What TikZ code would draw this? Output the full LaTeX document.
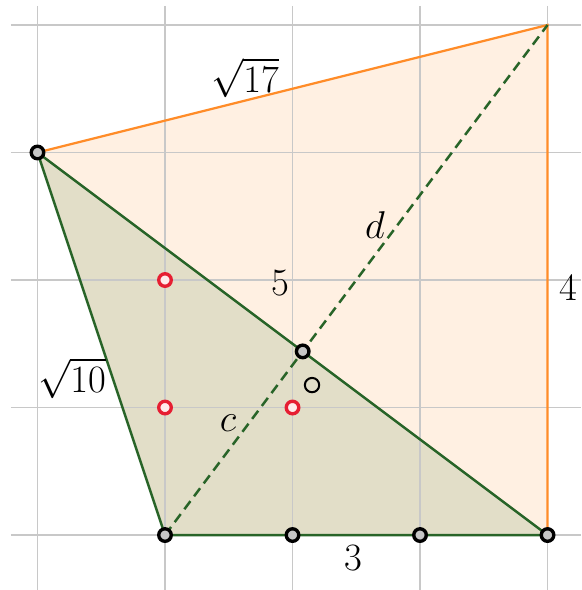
\documentclass[tikz,border=0pt]{standalone}
\usepackage{tikz}
\usetikzlibrary{positioning}
\definecolor{edgegreen}{RGB}{40,100,40}
\definecolor{fillgreen}{RGB}{226,222,200}
\definecolor{edgeorange}{RGB}{255,140,40}
\definecolor{fillorange}{RGB}{255,240,226}
\definecolor{gridgray}{RGB}{200,200,200}
\definecolor{markred}{RGB}{230,30,50}

\begin{document}
\begin{tikzpicture}[x=2cm,y=2cm,
  gridline/.style={gridgray,line width=0.6pt},
  greenedge/.style={edgegreen,line width=1.1pt},
  orangeedge/.style={edgeorange,line width=1pt},
  ptmark/.style={draw=black,line width=1.5pt,fill=gray!45},
  redmark/.style={draw=markred,line width=1.5pt,fill=red!8},
  lbl/.style={font=\fontsize{16.5}{20}\selectfont,inner sep=1pt}]
\useasboundingbox (-1.294,-0.431) rectangle (3.263,4.196);
\coordinate (A) at (-1,3);
\coordinate (B) at (0,0);
\coordinate (C) at (3,0);
\coordinate (D) at (3,4);
\coordinate (S) at (1.08,1.44);

\fill[fillorange] (A) -- (D) -- (C) -- (B) -- cycle;
\fill[fillgreen] (A) -- (B) -- (C) -- cycle;

\draw[gridline] (-1,4.149) -- (-1,-0.431);
\draw[gridline] (0,4.149) -- (0,-0.431);
\draw[gridline] (1,4.149) -- (1,-0.431);
\draw[gridline] (2,4.149) -- (2,-0.431);
\draw[gridline] (3,4.149) -- (3,-0.431);
\draw[gridline] (-1.208,0) -- (3.263,0);
\draw[gridline] (-1.208,1) -- (3.263,1);
\draw[gridline] (-1.208,2) -- (3.263,2);
\draw[gridline] (-1.208,3) -- (3.263,3);
\draw[gridline] (-1.208,4) -- (3.263,4);

\draw[orangeedge] (A) -- (D) -- (C);
\draw[greenedge] (A) -- (B) -- (C) -- cycle;
\draw[edgegreen,line width=1.1pt,dash pattern=on 4.5pt off 2.7pt] (B) -- (D);

\node[lbl] (l17) at (0.627,3.584) {$\sqrt{17}$};
\node[lbl] (ld) at (1.647,2.431) {$d$};
\node[lbl] (l4) at (3.161,1.937) {$4$};
\node[lbl] (l5) at (0.902,1.976) {$5$};
\node[lbl] (l10) at (-0.729,1.231) {$\sqrt{10}$};
\node[lbl] (lc) at (0.494,0.878) {$c$};
\node[lbl] (l3) at (1.475,-0.180) {$3$};

\draw[black,line width=0.9pt] (1.153,1.176) circle (3.2pt);
\draw[redmark] (0,2) circle (2.8pt);
\draw[redmark] (0,1) circle (2.8pt);
\draw[redmark] (1,1) circle (2.8pt);
\draw[ptmark] (A) circle (2.8pt);
\draw[ptmark] (B) circle (2.8pt);
\draw[ptmark] (1,0) circle (2.8pt);
\draw[ptmark] (2,0) circle (2.8pt);
\draw[ptmark] (C) circle (2.8pt);
\draw[ptmark] (S) circle (2.8pt);
\end{tikzpicture}
\end{document}
